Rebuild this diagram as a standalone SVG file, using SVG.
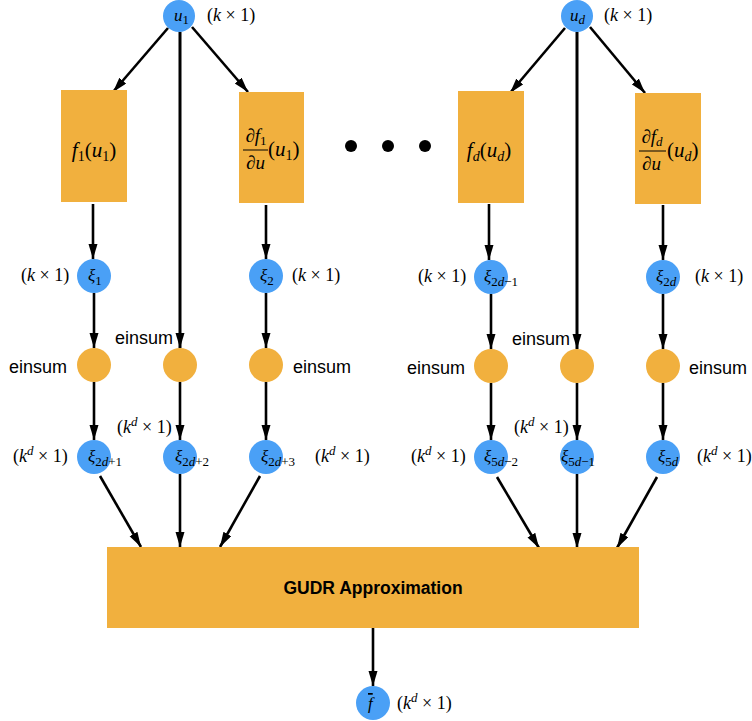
<svg xmlns="http://www.w3.org/2000/svg" width="752" height="721" viewBox="0 0 752 721">
<defs>
<marker id="ah" markerUnits="userSpaceOnUse" markerWidth="16" markerHeight="10" refX="15" refY="4.5" orient="auto">
<path d="M0,0 L15,4.5 L0,9 z" fill="#000"/>
</marker>
<style>
.c{stroke:#000;stroke-width:2.6;fill:none;marker-end:url(#ah)}
.cl{stroke:#000;stroke-width:3;fill:none;marker-end:url(#ah)}
.blue{fill:#4aa0f6}
.org{fill:#f1b03e}
.m{font-family:"Liberation Serif","DejaVu Serif",serif;fill:#000}
.lab{font-size:18px}
.in{font-size:17px}
.bx{font-size:21px}
.it{font-style:italic}
.sb{font-size:13px}
.sa{font-family:"Liberation Sans","DejaVu Sans",sans-serif;font-size:18px;fill:#000}
.gudr{font-family:"Liberation Sans","DejaVu Sans",sans-serif;font-size:17.5px;font-weight:bold;fill:#000}
</style>
</defs>
<rect width="752" height="721" fill="#fff"/>

<g id="connectors">
<line class="c" x1="168" y1="28" x2="113" y2="92"/>
<line class="c" x1="192" y1="27" x2="248" y2="92"/>
<line class="cl" x1="180" y1="32" x2="180" y2="348"/>
<line class="c" x1="93" y1="204" x2="93" y2="259"/>
<line class="c" x1="266" y1="205" x2="266" y2="259"/>
<line class="c" x1="94" y1="293" x2="94" y2="348"/>
<line class="c" x1="266" y1="293" x2="266" y2="348"/>
<line class="c" x1="94" y1="382" x2="94" y2="440"/>
<line class="c" x1="180" y1="382" x2="180" y2="440"/>
<line class="c" x1="266" y1="382" x2="266" y2="440"/>
<line class="c" x1="100" y1="476" x2="141" y2="547"/>
<line class="c" x1="180" y1="474" x2="180" y2="547"/>
<line class="c" x1="260" y1="476" x2="220" y2="547"/>

<line class="c" x1="565" y1="28" x2="510" y2="93"/>
<line class="c" x1="590" y1="27" x2="645" y2="93"/>
<line class="cl" x1="577" y1="32" x2="577" y2="349"/>
<line class="c" x1="489" y1="204" x2="489" y2="260"/>
<line class="c" x1="663" y1="205" x2="663" y2="260"/>
<line class="c" x1="491" y1="294" x2="491" y2="349"/>
<line class="c" x1="663" y1="294" x2="663" y2="349"/>
<line class="c" x1="491" y1="383" x2="491" y2="440"/>
<line class="c" x1="577" y1="383" x2="577" y2="440"/>
<line class="c" x1="663" y1="383" x2="663" y2="440"/>
<line class="c" x1="497" y1="477" x2="539" y2="548"/>
<line class="c" x1="577" y1="474" x2="577" y2="548"/>
<line class="c" x1="657" y1="477" x2="617" y2="548"/>

<line class="c" x1="373" y1="628" x2="373" y2="686"/>
</g>

<g id="u1">
<circle class="blue" cx="179" cy="16" r="16"/>
<text class="m in" x="174" y="21"><tspan class="it">u</tspan><tspan class="sb" dy="3">1</tspan></text>
<text class="m lab" x="207" y="21">(<tspan class="it">k</tspan> × 1)</text>
</g>
<g id="ud">
<circle class="blue" cx="577" cy="16" r="16"/>
<text class="m in" x="570" y="21"><tspan class="it">u</tspan><tspan class="sb it" dy="3">d</tspan></text>
<text class="m lab" x="604" y="21">(<tspan class="it">k</tspan> × 1)</text>
</g>

<g id="f1box">
<rect class="org" x="61" y="90" width="66" height="112"/>
<text class="m bx" x="94" y="157" text-anchor="middle"><tspan class="it">f</tspan><tspan font-size="14" dy="4">1</tspan><tspan dy="-4">(</tspan><tspan class="it">u</tspan><tspan font-size="14" dy="4">1</tspan><tspan dy="-4">)</tspan></text>
</g>
<g id="df1box">
<rect class="org" x="239" y="92" width="65" height="111"/>
<text class="m" font-size="19" x="256" y="142" text-anchor="middle">∂<tspan class="it">f</tspan><tspan font-size="13" dy="3">1</tspan></text>
<line x1="243" y1="150" x2="268" y2="150" stroke="#000" stroke-width="1"/>
<text class="m" font-size="19" x="255.5" y="169" text-anchor="middle">∂<tspan class="it">u</tspan></text>
<text class="m bx" x="268" y="156">(<tspan class="it">u</tspan><tspan font-size="14" dy="4">1</tspan><tspan dy="-4">)</tspan></text>
</g>
<g id="fdbox">
<rect class="org" x="458" y="91" width="66" height="112"/>
<text class="m bx" x="489" y="157" text-anchor="middle"><tspan class="it">f</tspan><tspan font-size="14" class="it" dy="4">d</tspan><tspan dy="-4">(</tspan><tspan class="it">u</tspan><tspan font-size="14" class="it" dy="4">d</tspan><tspan dy="-4">)</tspan></text>
</g>
<g id="dfdbox">
<rect class="org" x="635" y="93" width="66" height="111"/>
<text class="m" font-size="19" x="652" y="143" text-anchor="middle">∂<tspan class="it">f</tspan><tspan font-size="13" class="it" dy="3">d</tspan></text>
<line x1="639" y1="151" x2="666" y2="151" stroke="#000" stroke-width="1"/>
<text class="m" font-size="19" x="651.5" y="170" text-anchor="middle">∂<tspan class="it">u</tspan></text>
<text class="m bx" x="667" y="157">(<tspan class="it">u</tspan><tspan font-size="14" class="it" dy="4">d</tspan><tspan dy="-4">)</tspan></text>
</g>

<g id="dots">
<circle cx="351" cy="146" r="6" fill="#000"/>
<circle cx="388" cy="146" r="6" fill="#000"/>
<circle cx="425" cy="146" r="6" fill="#000"/>
</g>

<g id="xi1">
<circle class="blue" cx="94" cy="276" r="17"/>
<text class="m in" x="88" y="281"><tspan class="it">ξ</tspan><tspan class="sb" dy="4">1</tspan></text>
<text class="m lab" x="21" y="281">(<tspan class="it">k</tspan> × 1)</text>
</g>
<g id="xi2">
<circle class="blue" cx="266" cy="276" r="17"/>
<text class="m in" x="260" y="281"><tspan class="it">ξ</tspan><tspan class="sb" dy="4">2</tspan></text>
<text class="m lab" x="292" y="281">(<tspan class="it">k</tspan> × 1)</text>
</g>
<g id="xi2dm1">
<circle class="blue" cx="491" cy="277" r="17"/>
<text class="m in" x="484" y="282"><tspan class="it">ξ</tspan><tspan class="sb" dy="4">2<tspan class="it">d</tspan>−1</tspan></text>
<text class="m lab" x="418" y="282">(<tspan class="it">k</tspan> × 1)</text>
</g>
<g id="xi2d">
<circle class="blue" cx="663" cy="277" r="17"/>
<text class="m in" x="656" y="282"><tspan class="it">ξ</tspan><tspan class="sb" dy="4">2<tspan class="it">d</tspan></tspan></text>
<text class="m lab" x="695" y="282">(<tspan class="it">k</tspan> × 1)</text>
</g>

<g id="einsum1">
<circle class="org" cx="94" cy="365" r="17"/>
<text class="sa" x="9" y="373">einsum</text>
</g>
<g id="einsum2">
<circle class="org" cx="180" cy="365" r="17"/>
<text class="sa" x="115" y="344">einsum</text>
</g>
<g id="einsum3">
<circle class="org" cx="266" cy="365" r="17"/>
<text class="sa" x="293" y="373">einsum</text>
</g>
<g id="einsum4">
<circle class="org" cx="491" cy="366" r="17"/>
<text class="sa" x="407" y="374">einsum</text>
</g>
<g id="einsum5">
<circle class="org" cx="577" cy="366" r="17"/>
<text class="sa" x="512" y="345">einsum</text>
</g>
<g id="einsum6">
<circle class="org" cx="663" cy="366" r="17"/>
<text class="sa" x="689" y="374">einsum</text>
</g>

<g id="xi2dp1">
<circle class="blue" cx="94" cy="457" r="17"/>
<text class="m in" x="88" y="462"><tspan class="it">ξ</tspan><tspan class="sb" dy="4">2<tspan class="it">d</tspan>+1</tspan></text>
<text class="m lab" x="13" y="462">(<tspan class="it">k</tspan><tspan class="sb it" dy="-7">d</tspan><tspan dy="7"> × 1)</tspan></text>
</g>
<g id="xi2dp2">
<circle class="blue" cx="180" cy="457" r="17"/>
<text class="m in" x="175" y="462"><tspan class="it">ξ</tspan><tspan class="sb" dy="4">2<tspan class="it">d</tspan>+2</tspan></text>
<text class="m lab" x="117" y="433">(<tspan class="it">k</tspan><tspan class="sb it" dy="-7">d</tspan><tspan dy="7"> × 1)</tspan></text>
</g>
<g id="xi2dp3">
<circle class="blue" cx="266" cy="457" r="17"/>
<text class="m in" x="261" y="462"><tspan class="it">ξ</tspan><tspan class="sb" dy="4">2<tspan class="it">d</tspan>+3</tspan></text>
<text class="m lab" x="315" y="462">(<tspan class="it">k</tspan><tspan class="sb it" dy="-7">d</tspan><tspan dy="7"> × 1)</tspan></text>
</g>
<g id="xi5dm2">
<circle class="blue" cx="491" cy="457" r="17"/>
<text class="m in" x="484" y="462"><tspan class="it">ξ</tspan><tspan class="sb" dy="4">5<tspan class="it">d</tspan>−2</tspan></text>
<text class="m lab" x="411" y="462">(<tspan class="it">k</tspan><tspan class="sb it" dy="-7">d</tspan><tspan dy="7"> × 1)</tspan></text>
</g>
<g id="xi5dm1">
<circle class="blue" cx="577" cy="457" r="17"/>
<text class="m in" x="561" y="462"><tspan class="it">ξ</tspan><tspan class="sb" dy="4">5<tspan class="it">d</tspan>−1</tspan></text>
<text class="m lab" x="514" y="433">(<tspan class="it">k</tspan><tspan class="sb it" dy="-7">d</tspan><tspan dy="7"> × 1)</tspan></text>
</g>
<g id="xi5d">
<circle class="blue" cx="663" cy="457" r="17"/>
<text class="m in" x="658" y="462"><tspan class="it">ξ</tspan><tspan class="sb" dy="4">5<tspan class="it">d</tspan></tspan></text>
<text class="m lab" x="697" y="462">(<tspan class="it">k</tspan><tspan class="sb it" dy="-7">d</tspan><tspan dy="7"> × 1)</tspan></text>
</g>

<g id="gudr">
<rect class="org" x="107" y="547" width="532" height="81"/>
<text class="gudr" x="373" y="594" text-anchor="middle">GUDR Approximation</text>
</g>

<g id="fbar">
<circle class="blue" cx="373" cy="703" r="17"/>
<text class="m in" x="368" y="709"><tspan class="it" text-decoration="overline">f</tspan></text>
<text class="m lab" x="397" y="709">(<tspan class="it">k</tspan><tspan class="sb it" dy="-7">d</tspan><tspan dy="7"> × 1)</tspan></text>
</g>
</svg>
